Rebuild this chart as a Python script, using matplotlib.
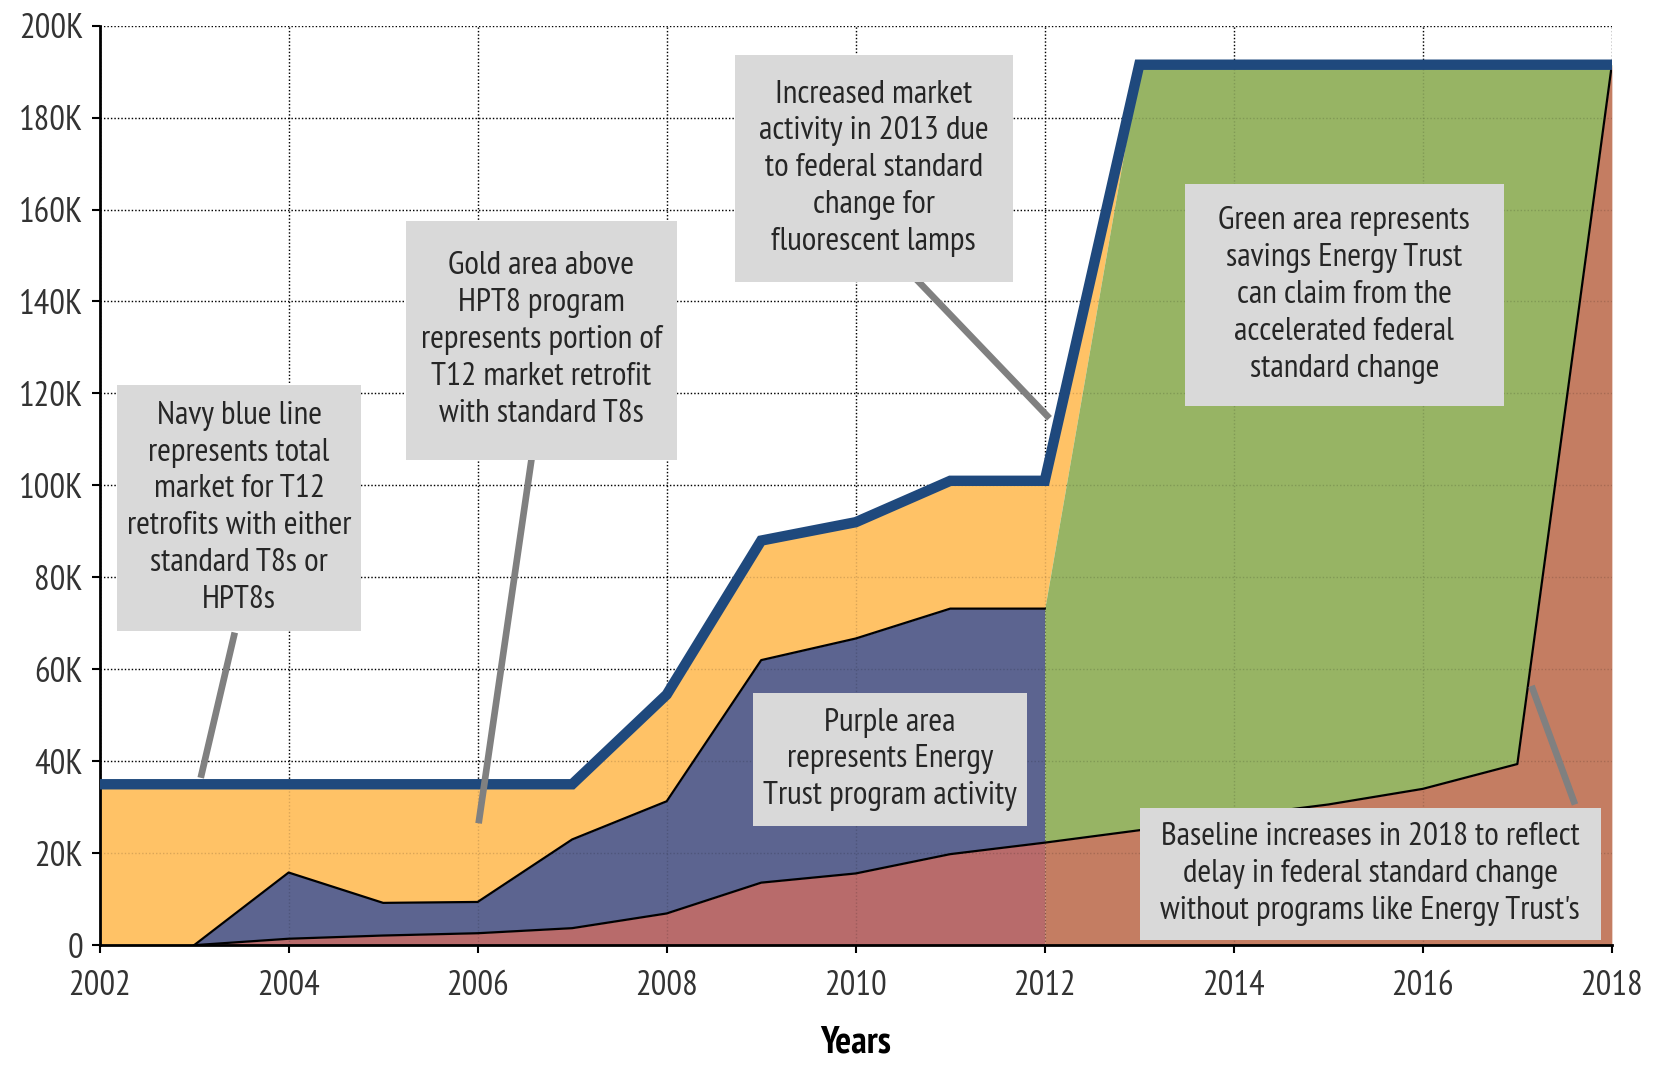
import matplotlib.pyplot as plt
from matplotlib import font_manager
from matplotlib.patches import Rectangle
from matplotlib.ticker import FuncFormatter

# Data (thousands of units) ------------------------------------------------------------
years = list(range(2002, 2019))
total_market = [35, 35, 35, 35, 35, 35, 54.5, 88, 92, 101, 101, 191.5, 191.5, 191.5, 191.5, 191.5, 191.5]
program_top = [0, 0, 15.8, 9.2, 9.4, 23, 31.3, 62, 66.7, 73.2, 73.2]          # 2002-2012
baseline = [0, 0, 1.4, 2.1, 2.6, 3.7, 6.9, 13.6, 15.6, 19.8, 22.3, 25, 28, 30.6, 34, 39.4, 191.5]
green_top = [73.2, 191.5, 191.5, 191.5, 191.5, 191.5, 191.5]                 # 2012-2018

NAVY = '#1F497D'
GOLD = '#FFC266'
PURPLE = '#5C6490'
RED_EARLY = '#B86B6B'
RED_LATE = '#C47D62'
GREEN = '#97B464'
BOX_GRAY = '#D9D9D9'
POINTER_GRAY = '#808080'
TEXT_COLOR = '#262626'

# pick a narrow sans (the original uses Arial Narrow)
installed = {f.name for f in font_manager.fontManager.ttflist}
narrow = [f for f in ['Liberation Sans Narrow', 'Arial Narrow', 'PT Sans Narrow',
                      'Roboto Condensed', 'Archivo Narrow'] if f in installed]
FONT = narrow[:1] + ['Liberation Sans', 'DejaVu Sans']
plt.rcParams['font.family'] = FONT

fig = plt.figure(figsize=(16.6, 10.68), dpi=100)
ax = fig.add_axes([0.06, 0.115, 0.911, 0.861])

n_prog = len(program_top)
yrs_prog = years[:n_prog]
yrs_green = years[n_prog - 1:]
base_prog = baseline[:n_prog]
base_green = baseline[n_prog - 1:]

# gold: between program top (then green top) and total market, 2002-2013
gold_x = years[:n_prog + 1]
gold_lower = program_top + [green_top[1]]
ax.fill_between(gold_x, gold_lower, total_market[:n_prog + 1], color=GOLD, lw=0, zorder=2)
ax.fill_between(yrs_prog, base_prog, program_top, color=PURPLE, lw=0, zorder=2)
ax.fill_between(yrs_prog, 0, base_prog, color=RED_EARLY, lw=0, zorder=2)
ax.fill_between(yrs_green, 0, base_green, color=RED_LATE, lw=0, zorder=2)
ax.fill_between(yrs_green, base_green, green_top, color=GREEN, lw=0, zorder=2)

# faint grid showing through the filled areas
for yv in range(20, 200, 20):
    ax.axhline(yv, color='black', alpha=0.15, lw=1, ls=(0, (1, 1.5)), zorder=2.5)
for xv in range(2004, 2018, 2):
    ax.axvline(xv, color='black', alpha=0.15, lw=1, ls=(0, (1, 1.5)), zorder=2.5)

# thin black edges
ax.plot(yrs_prog[1:], program_top[1:], color='black', lw=1.6, zorder=3)
ax.plot(years[1:], baseline[1:], color='black', lw=1.6, zorder=3)

# total market line
ax.plot(years, total_market, color=NAVY, lw=7.5, solid_joinstyle='miter', zorder=6)

# axes styling
ax.set_xlim(2002, 2018)
ax.set_ylim(0, 200)
ax.set_xticks(range(2002, 2019, 2))
ax.set_yticks(range(0, 201, 20))
ax.yaxis.set_major_formatter(FuncFormatter(lambda v, p: '0' if v == 0 else '%dK' % v))
ax.tick_params(direction='out', length=6, width=1.5, labelsize=25, labelcolor='#333333')
ax.tick_params(axis='y', pad=6)
ax.tick_params(axis='x', pad=12)
ax.grid(True, color='black', linestyle=(0, (1, 1.5)), lw=1, zorder=1)
ax.set_axisbelow(True)
for s in ['top', 'right']:
    ax.spines[s].set_visible(False)
ax.spines['left'].set_linewidth(2)
ax.spines['bottom'].set_linewidth(2)
ax.set_xlabel('Years', fontsize=27, fontweight='bold', labelpad=17, color='black')

# annotations -------------------------------------------------------------------------
def note(x0, x1, y0, y1, text):
    ax.add_patch(Rectangle((x0, y0), x1 - x0, y1 - y0, fc=BOX_GRAY, ec='none', zorder=8))
    ax.text((x0 + x1) / 2, (y0 + y1) / 2, text, ha='center', va='center', fontsize=24,
            color=TEXT_COLOR, linespacing=1.3, zorder=9)

def pointer(x0, y0, x1, y1):
    ax.plot([x0, x1], [y0, y1], color=POINTER_GRAY, lw=4.8, solid_capstyle='butt', zorder=7)

pointer(2003.43, 68, 2003.07, 36.4)
note(2002.18, 2004.77, 68.4, 121.8, 'Navy blue line\nrepresents total\nmarket for T12\nretrofits with either\nstandard T8s or\nHPT8s')

pointer(2006.60, 110, 2006.01, 26.5)
note(2005.24, 2008.11, 105.6, 157.6, 'Gold area above\nHPT8 program\nrepresents portion of\nT12 market retrofit\nwith standard T8s')

pointer(2010.40, 150, 2012.05, 114.6)
note(2008.72, 2011.66, 144.3, 193.6, 'Increased market\nactivity in 2013 due\nto federal standard\nchange for\nfluorescent lamps')

note(2013.48, 2016.86, 117.2, 165.5, 'Green area represents\nsavings Energy Trust\ncan claim from the\naccelerated federal\nstandard change')

note(2008.91, 2011.81, 26.0, 54.8, 'Purple area\nrepresents Energy\nTrust program activity')

pointer(2017.61, 30.6, 2017.15, 56.4)
note(2013.01, 2017.88, 1.2, 29.9, "Baseline increases in 2018 to reflect\ndelay in federal standard change\nwithout programs like Energy Trust's")

fig.savefig('out.png', dpi=100)
